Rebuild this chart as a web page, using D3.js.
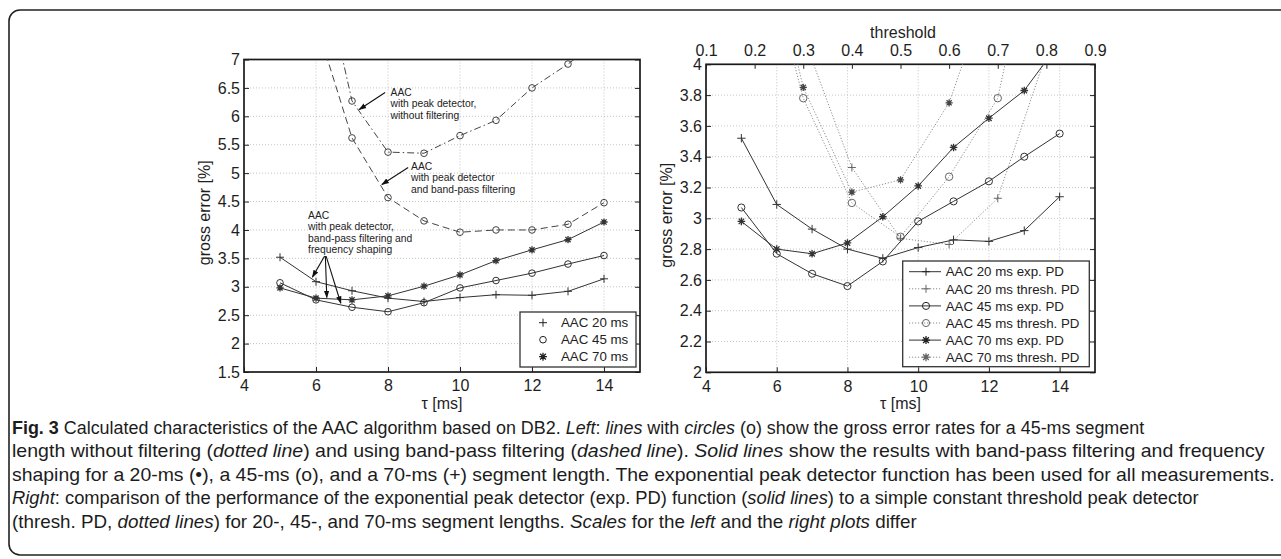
<!DOCTYPE html>
<html>
<head>
<meta charset="utf-8">
<script src="https://cdn.jsdelivr.net/npm/d3@7"></script>
<style>
  body { margin: 0; background: #fff; }
  svg { display: block; font-family: "Liberation Sans", Arial, Helvetica, sans-serif; }
</style>
</head>
<body>
<div id="chart"></div>
<script>
// ---- data ----
var tau = [5, 6, 7, 8, 9, 10, 11, 12, 13, 14];
var aac20 = [3.52, 3.09, 2.93, 2.80, 2.74, 2.81, 2.86, 2.85, 2.92, 3.14];
var aac45 = [3.07, 2.77, 2.64, 2.56, 2.72, 2.98, 3.11, 3.24, 3.40, 3.55];
var aac70 = [2.98, 2.80, 2.77, 2.84, 3.01, 3.21, 3.46, 3.65, 3.83, 4.14];

// left plot, 45 ms without filtering / band-pass only (start at 6 ms, clipped above 7 %)
var tauNoFilt = [6, 7, 8, 9, 10, 11, 12, 13, 14];
var aac45NoFilt = [9.1, 6.27, 5.37, 5.35, 5.66, 5.93, 6.50, 6.92, 7.40];
var aac45BandPass = [7.65, 5.62, 4.57, 4.16, 3.96, 4.00, 4.00, 4.10, 4.48];

// right plot, constant threshold peak detector
var thr20 = [0.3, 0.4, 0.5, 0.6, 0.7, 0.8];
var aac20Thr = [4.18, 3.33, 2.87, 2.83, 3.13, 4.07];
var thr45 = [0.2, 0.3, 0.4, 0.5, 0.6, 0.7, 0.8];
var aac45Thr = [4.98, 3.78, 3.10, 2.88, 3.27, 3.78, 5.25];
var thr70 = [0.2, 0.3, 0.4, 0.5, 0.6, 0.7];
var aac70Thr = [5.18, 3.85, 3.17, 3.25, 3.75, 4.66];

// ticks
var tauTicks = [4, 6, 8, 10, 12, 14];
var leftYTicks = [1.5, 2, 2.5, 3, 3.5, 4, 4.5, 5, 5.5, 6, 6.5, 7];
var rightYTicks = [2, 2.2, 2.4, 2.6, 2.8, 3, 3.2, 3.4, 3.6, 3.8, 4];
var thrTicks = [0.1, 0.2, 0.3, 0.4, 0.5, 0.6, 0.7, 0.8, 0.9];

var leftLegend = ["AAC 20 ms", "AAC 45 ms", "AAC 70 ms"];
var rightLegend = ["AAC 20 ms exp. PD", "AAC 20 ms thresh. PD", "AAC 45 ms exp. PD",
                   "AAC 45 ms thresh. PD", "AAC 70 ms exp. PD", "AAC 70 ms thresh. PD"];

var caption = [
  [["Fig. 3", "b"], [" Calculated characteristics of the AAC algorithm based on DB2. ", ""], ["Left", "i"], [": ", ""], ["lines", "i"], [" with ", ""], ["circles", "i"], [" (o) show the gross error rates for a 45-ms segment", ""]],
  [["length without filtering (", ""], ["dotted line", "i"], [") and using band-pass filtering (", ""], ["dashed line", "i"], ["). ", ""], ["Solid lines", "i"], [" show the results with band-pass filtering and frequency", ""]],
  [["shaping for a 20-ms (\u2022), a 45-ms (o), and a 70-ms (+) segment length. The exponential peak detector function has been used for all measurements.", ""]],
  [["Right", "i"], [": comparison of the performance of the exponential peak detector (exp. PD) function (", ""], ["solid lines", "i"], [") to a simple constant threshold peak detector", ""]],
  [["(thresh. PD, ", ""], ["dotted lines", "i"], [") for 20-, 45-, and 70-ms segment lengths. ", ""], ["Scales", "i"], [" for the ", ""], ["left", "i"], [" and the ", ""], ["right plots", "i"], [" differ", ""]]
];
// right end of the full-width caption lines (last line keeps the average squeeze)
var captionEnds = [1145, 1265, 1276, 1200, null];

// ---- drawing ----
var W = 1281, H = 559;
var svg = d3.select("#chart").append("svg").attr("width", W).attr("height", H);

svg.append("rect")
  .attr("x", 9).attr("y", 10).attr("width", 1300).attr("height", 545).attr("rx", 11)
  .attr("fill", "none").attr("stroke", "#222").attr("stroke-width", 1.6);

var solid = "#333", dotted = "#8c8c8c";

function markerPath(type, s) {
  if (type == "plus") return "M" + -s + ",0H" + s + "M0," + -s + "V" + s;
  var d = s * 0.72;
  return "M" + -s + ",0H" + s + "M0," + -s + "V" + s +
    "M" + -d + "," + -d + "L" + d + "," + d + "M" + -d + "," + d + "L" + d + "," + -d;
}

function addMarker(g, type, x, y, color, size) {
  if (type == "circle") {
    g.append("circle").attr("cx", x).attr("cy", y).attr("r", size * 0.85)
      .attr("fill", "none").attr("stroke", color).attr("stroke-width", 1);
  } else {
    g.append("path").attr("transform", "translate(" + x + "," + y + ")")
      .attr("d", markerPath(type, size))
      .attr("fill", "none").attr("stroke", color).attr("stroke-width", type == "star" ? 1.3 : 1);
  }
}

function panel(id, x, y, yTicks, fmtY) {
  var x0 = x.range()[0], x1 = x.range()[1], y0 = y.range()[1], y1 = y.range()[0];
  var g = svg.append("g");

  svg.append("clipPath").attr("id", id)
    .append("rect").attr("x", x0).attr("y", y0).attr("width", x1 - x0).attr("height", y1 - y0);

  // grid
  var grid = g.append("g").attr("stroke", "#bdbdbd").attr("stroke-width", 0.9).attr("stroke-dasharray", "1,2");
  grid.selectAll(".gx").data(tauTicks.filter(function(d) { return d > 4; })).enter().append("line")
    .attr("x1", d => x(d)).attr("x2", d => x(d)).attr("y1", y0).attr("y2", y1);
  grid.selectAll(".gy").data(yTicks.slice(1, -1)).enter().append("line")
    .attr("x1", x0).attr("x2", x1).attr("y1", d => y(d)).attr("y2", d => y(d));

  // axes with inward ticks
  var bottom = g.append("g").attr("transform", "translate(0," + y1 + ")")
    .call(d3.axisBottom(x).tickValues(tauTicks).tickSizeInner(-5).tickSizeOuter(0).tickPadding(8).tickFormat(d => d));
  var left = g.append("g").attr("transform", "translate(" + x0 + ",0)")
    .call(d3.axisLeft(y).tickValues(yTicks).tickSizeInner(-5).tickSizeOuter(0).tickPadding(4).tickFormat(fmtY));
  g.append("g").attr("transform", "translate(" + x1 + ",0)")
    .call(d3.axisRight(y).tickValues(yTicks).tickSizeInner(-5).tickSizeOuter(0).tickFormat(""));
  [bottom, left].forEach(function(a) {
    a.attr("font-size", 16).attr("font-family", null);
    a.selectAll("text").attr("fill", "#1e1e1e");
  });
  g.selectAll(".domain").remove();
  g.selectAll(".tick line").attr("stroke", "#222");

  g.append("rect").attr("x", x0).attr("y", y0).attr("width", x1 - x0).attr("height", y1 - y0)
    .attr("fill", "none").attr("stroke", "#1a1a1a").attr("stroke-width", 1.7);

  g.append("text").attr("x", (x0 + x1) / 2).attr("y", y1 + 37).attr("text-anchor", "middle")
    .attr("font-size", 16).attr("fill", "#1e1e1e").text("\u03c4 [ms]");
  g.append("text")
    .attr("transform", "translate(" + (x0 - 34) + "," + ((y0 + y1) / 2 - 3) + ") rotate(-90)")
    .attr("text-anchor", "middle").attr("font-size", 16).attr("fill", "#1e1e1e").text("gross error [%]");

  var plot = svg.append("g").attr("clip-path", "url(#" + id + ")");
  return { g: g, plot: plot };
}

function series(target, xs, ys, style) {
  var pts = xs.map(function(d, i) { return [style.x(d), style.y(ys[i])]; });
  target.append("path").attr("d", d3.line()(pts)).attr("fill", "none")
    .attr("stroke", style.color).attr("stroke-width", style.width || 1)
    .attr("stroke-dasharray", style.dash || null);
  pts.forEach(function(p) { addMarker(target, style.marker, p[0], p[1], style.markerColor || style.color, style.size || 3.8); });
}

// ---- left plot ----
var xL = d3.scaleLinear().domain([4, 15]).range([244, 640]);
var yL = d3.scaleLinear().domain([1.5, 7]).range([372, 59.5]);
var pL = panel("clipL", xL, yL, leftYTicks, d => d);

series(pL.plot, tauNoFilt, aac45NoFilt, { x: xL, y: yL, color: "#444", dash: "7,3,1.5,3", marker: "circle", size: 3.9 });
series(pL.plot, tauNoFilt, aac45BandPass, { x: xL, y: yL, color: "#444", dash: "7,4", marker: "circle", size: 3.9 });
series(pL.plot, tau, aac20, { x: xL, y: yL, color: solid, marker: "plus", size: 4 });
series(pL.plot, tau, aac45, { x: xL, y: yL, color: solid, marker: "circle", size: 3.9 });
series(pL.plot, tau, aac70, { x: xL, y: yL, color: solid, marker: "star", size: 3.6 });

// annotations (data coordinates)
var notes = [
  { tx: 8.07, ty: 6.36, lines: ["AAC", "with peak detector,", "without filtering"], arrows: [[7.92, 6.42, 7.20, 6.12]] },
  { tx: 8.64, ty: 5.06, lines: ["AAC", "with peak detector", "and band-pass filtering"], arrows: [[8.56, 5.10, 7.83, 4.80]] },
  { tx: 5.78, ty: 4.20, lines: ["AAC", "with peak detector,", "band-pass filtering and", "frequency shaping"],
    arrows: [[6.24, 3.54, 5.90, 3.17], [6.26, 3.54, 6.30, 2.81], [6.28, 3.54, 6.69, 2.71]] }
];
svg.append("defs").append("marker").attr("id", "ah").attr("viewBox", "0 0 10 10")
  .attr("refX", 9).attr("refY", 5).attr("markerWidth", 7).attr("markerHeight", 7).attr("orient", "auto")
  .append("path").attr("d", "M0,1.5L10,5L0,8.5Z").attr("fill", "#111");
var ann = svg.append("g");
notes.forEach(function(n) {
  var t = ann.append("text").attr("x", xL(n.tx)).attr("y", yL(n.ty)).attr("font-size", 10.3).attr("fill", "#222");
  n.lines.forEach(function(l, i) {
    t.append("tspan").attr("x", xL(n.tx)).attr("dy", i == 0 ? 0 : 11.5).text(l);
  });
  n.arrows.forEach(function(a) {
    ann.append("line").attr("x1", xL(a[0])).attr("y1", yL(a[1])).attr("x2", xL(a[2])).attr("y2", yL(a[3]))
      .attr("stroke", "#111").attr("stroke-width", 1.1).attr("marker-end", "url(#ah)");
  });
});

// left legend
var lgL = svg.append("g");
lgL.append("rect").attr("x", 520).attr("y", 312).attr("width", 116).attr("height", 55)
  .attr("fill", "#fff").attr("stroke", "#333").attr("stroke-width", 1.3);
["plus", "circle", "star"].forEach(function(m, i) {
  var cy = 322.7 + i * 17;
  addMarker(lgL, m, 543, cy, "#222", m == "circle" ? 3.9 : 4);
  lgL.append("text").attr("x", 561).attr("y", cy).attr("dy", "0.36em").attr("font-size", 13.3)
    .attr("fill", "#222").text(leftLegend[i]);
});

// ---- right plot ----
var xR = d3.scaleLinear().domain([4, 15]).range([706, 1095]);
var xT = d3.scaleLinear().domain([0.1, 0.9]).range([706, 1095]);
var yR = d3.scaleLinear().domain([2, 4]).range([372.3, 64.3]);
var pR = panel("clipR", xR, yR, rightYTicks, d => d);

var topAx = pR.g.append("g").attr("transform", "translate(0,64.3)")
  .call(d3.axisTop(xT).tickValues(thrTicks).tickSizeInner(-4.5).tickSizeOuter(0).tickPadding(8).tickFormat(d => d.toFixed(1)));
topAx.attr("font-size", 16).attr("font-family", null);
topAx.select(".domain").remove();
topAx.selectAll("text").attr("fill", "#1e1e1e");
topAx.selectAll(".tick line").attr("stroke", "#222");
pR.g.append("text").attr("x", 903).attr("y", 38).attr("text-anchor", "middle")
  .attr("font-size", 16).attr("fill", "#1e1e1e").text("threshold");

var dotStyle = { x: xT, y: yR, color: dotted, dash: "1.2,1.8", markerColor: "#666" };
series(pR.plot, thr20, aac20Thr, Object.assign({}, dotStyle, { marker: "plus", size: 4 }));
series(pR.plot, thr45, aac45Thr, Object.assign({}, dotStyle, { marker: "circle", size: 4.4 }));
series(pR.plot, thr70, aac70Thr, Object.assign({}, dotStyle, { marker: "star", size: 3.6, markerColor: "#444" }));
series(pR.plot, tau, aac20, { x: xR, y: yR, color: solid, marker: "plus", size: 4.2 });
series(pR.plot, tau, aac45, { x: xR, y: yR, color: solid, marker: "circle", size: 4.2 });
series(pR.plot, tau, aac70, { x: xR, y: yR, color: solid, marker: "star", size: 3.8 });

// right legend
var lgR = svg.append("g");
lgR.append("rect").attr("x", 902.7).attr("y", 261).attr("width", 186.6).attr("height", 105.7)
  .attr("fill", "#fff").attr("stroke", "#333").attr("stroke-width", 1.3);
var legMarks = ["plus", "plus", "circle", "circle", "star", "star"];
rightLegend.forEach(function(label, i) {
  var cy = 271.7 + i * 17.1, isDot = i % 2 == 1;
  lgR.append("line").attr("x1", 909).attr("x2", 941).attr("y1", cy).attr("y2", cy)
    .attr("stroke", isDot ? dotted : solid).attr("stroke-width", 1)
    .attr("stroke-dasharray", isDot ? "1.2,1.8" : null);
  addMarker(lgR, legMarks[i], 926, cy, isDot ? "#666" : "#222", legMarks[i] == "circle" ? 4.2 : 4);
  lgR.append("text").attr("x", 945.7).attr("y", cy).attr("dy", "0.36em").attr("font-size", 13.3)
    .attr("fill", "#222").text(label);
});

// ---- caption: natural font, squeezed horizontally to the reference line ends ----
var cap = svg.append("g").attr("font-size", 17.5).attr("fill", "#1c1c1c");
var capTexts = caption.map(function(line, i) {
  var t = cap.append("text").attr("x", 0).attr("y", 0);
  line.forEach(function(seg) {
    t.append("tspan").text(seg[0])
      .attr("font-weight", seg[1] == "b" ? "bold" : null)
      .attr("font-style", seg[1] == "i" ? "italic" : null);
  });
  return t;
});
var scales = capTexts.map(function(t, i) {
  return captionEnds[i] ? (captionEnds[i] - 12) / t.node().getComputedTextLength() : null;
});
var known = scales.filter(s => s);
var avgScale = d3.mean(known);
capTexts.forEach(function(t, i) {
  var s = scales[i] || avgScale;
  t.attr("transform", "translate(12," + (433.5 + i * 23.5) + ") scale(" + s + ",1)");
});
</script>
</body>
</html>
